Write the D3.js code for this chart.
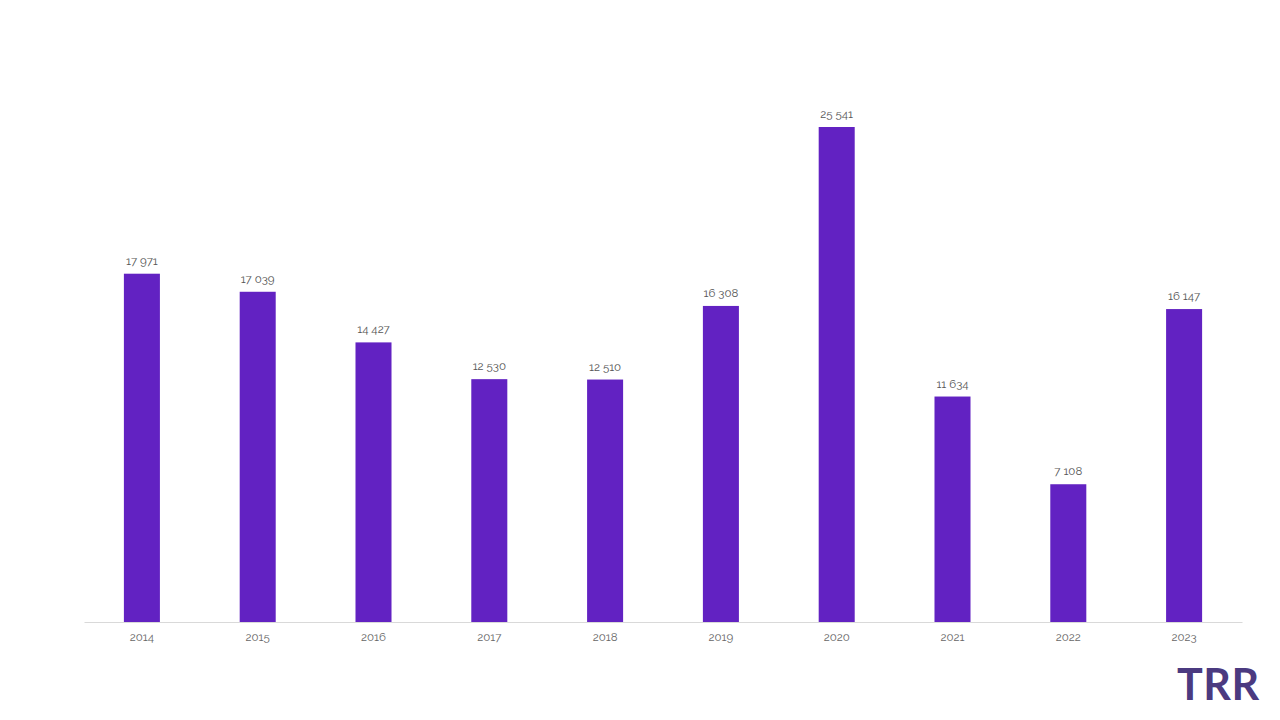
<!DOCTYPE html>
<html><head><meta charset="utf-8">
<script src="https://cdn.jsdelivr.net/npm/d3@7"></script>
<style>body{margin:0;background:#fff;}svg{display:block;}</style>
</head><body>
<svg id="c" width="1280" height="720"></svg>
<script>
const years = ["2014","2015","2016","2017","2018","2019","2020","2021","2022","2023"];
const values = [17971,17039,14427,12530,12510,16308,25541,11634,7108,16147];
const labels = ["17 971","17 039","14 427","12 530","12 510","16 308","25 541","11 634","7 108","16 147"];

const svg = d3.select("#c");
const x = d3.scaleBand().domain(years).range([84,1242]).paddingInner(0.689).paddingOuter(0.3445);
const y = d3.scaleLinear().domain([0,25541]).range([622,127]);
const font = "Raleway, Lato, 'Open Sans', sans-serif";

svg.append("g").selectAll("rect").data(values).join("rect")
  .attr("x",(d,i)=>x(years[i])).attr("width",x.bandwidth())
  .attr("y",d=>y(d)).attr("height",d=>y(0)-y(d)).attr("fill","#6222c2");

svg.append("g").selectAll("text").data(values).join("text")
  .attr("x",(d,i)=>x(years[i])+x.bandwidth()/2).attr("y",d=>y(d)-9)
  .attr("text-anchor","middle").attr("font-family",font).attr("font-size",11.5)
  .attr("fill","#555").text((d,i)=>labels[i]);

const ax = svg.append("g").attr("transform","translate(0,622)")
  .call(d3.axisBottom(x).tickSize(0).tickPadding(11));
ax.select(".domain").attr("stroke","#d9d9d9");
ax.selectAll("text").attr("font-family",font).attr("font-size",11.5).attr("fill","#666");

svg.append("text").attr("x",1177).attr("y",700).attr("font-family","Lato, sans-serif")
  .attr("font-weight",700).attr("font-size",43).attr("fill","#4b3a80").attr("letter-spacing",0.5).text("TRR");
</script>
</body></html>
